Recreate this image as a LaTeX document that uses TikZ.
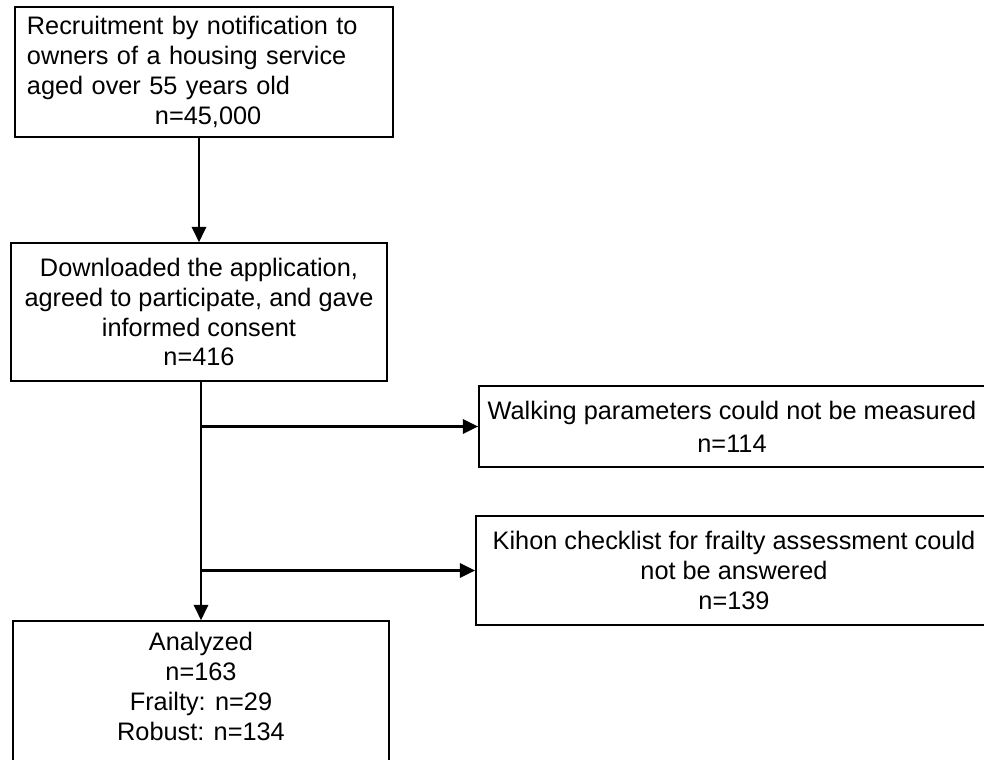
\documentclass[tikz,border=0pt]{standalone}
\usepackage{fontspec}
\setmainfont{Liberation Sans}
\usetikzlibrary{arrows.meta}
\tikzset{
  box/.style={draw, line width=1.2pt, align=center, inner sep=0pt,
    font=\fontsize{18}{21.3}\selectfont},
  flow/.style={line width=1.5pt, -{Triangle[length=0.38cm,width=0.36cm]}}
}
\begin{document}
\begin{tikzpicture}[x=0.025cm, y=-0.025cm]
    \useasboundingbox (0,0) rectangle (984,760);
    \node[box, minimum width=9.45cm, minimum height=3.25cm, text width=8.85cm, align=left] (recruit) at (204,72)
        {Recruitment by notification to\\owners of a housing service\\aged over 55 years old\\\hspace*{3.2cm}n=45,000};
    \node[box, minimum width=9.4cm, minimum height=3.45cm] (consent) at (199,312)
        {Downloaded the application,\\agreed to participate, and gave\\informed consent\\n=416};
    \node[box, minimum width=12.65cm, minimum height=2.025cm] (walking) at (732,426.5)
        {Walking parameters could not be measured\\[2pt]n=114};
    \node[box, minimum width=12.9cm, minimum height=2.725cm] (kihon) at (734,570.5)
        {Kihon checklist for frailty assessment could\\not be answered\\n=139};
    \node[box, minimum width=9.4cm, minimum height=4cm] (analyzed) at (201,701)
        {Analyzed\\n=163\\Frailty: n=29\\Robust: n=134\\[0pt]\mbox{}};
    \draw[flow] (consent.north |- recruit.south) -- (consent.north);
    \draw[flow] (consent.south -| analyzed.north) -- (analyzed.north);
    \draw[flow] (analyzed.north |- walking.west) -- (walking.west);
    \draw[flow] (analyzed.north |- kihon.west) -- (kihon.west);
\end{tikzpicture}
\end{document}
